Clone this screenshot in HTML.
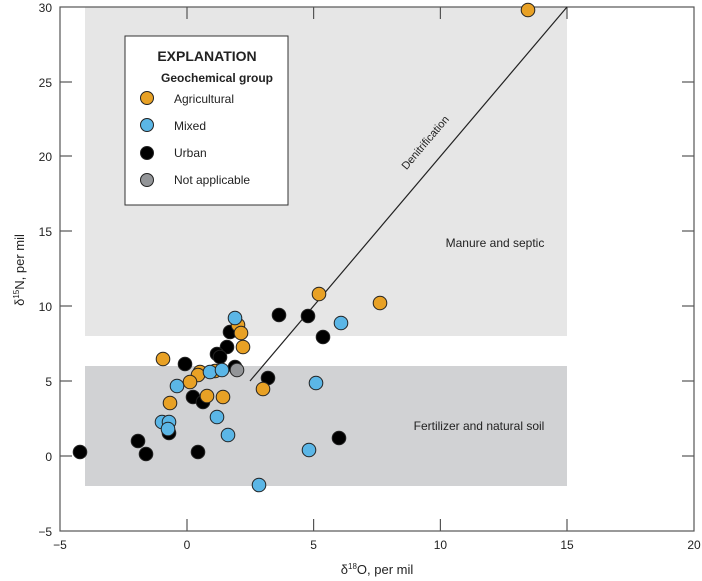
<!DOCTYPE html>
<html><head><meta charset="utf-8"><style>
body{margin:0;background:#fff}
svg{display:block;font-family:"Liberation Sans",sans-serif}
</style></head><body>
<svg width="702" height="581" viewBox="0 0 702 581">
<rect x="85" y="7" width="482" height="329" fill="#e6e6e6"/>
<rect x="85" y="366" width="482" height="120" fill="#d1d2d4"/>
<rect x="60" y="7" width="634" height="524" fill="none" stroke="#555" stroke-width="1.2"/>
<g stroke="#555" stroke-width="1.2">
<line x1="187" y1="531" x2="187" y2="519"/><line x1="313.6" y1="531" x2="313.6" y2="519"/><line x1="440.4" y1="531" x2="440.4" y2="519"/><line x1="567" y1="531" x2="567" y2="519"/>
<line x1="187" y1="7" x2="187" y2="19"/><line x1="313.6" y1="7" x2="313.6" y2="19"/><line x1="440.4" y1="7" x2="440.4" y2="19"/><line x1="567" y1="7" x2="567" y2="19"/>
<line x1="60" y1="82" x2="72" y2="82"/><line x1="60" y1="156" x2="72" y2="156"/><line x1="60" y1="231" x2="72" y2="231"/><line x1="60" y1="306" x2="72" y2="306"/><line x1="60" y1="381" x2="72" y2="381"/><line x1="60" y1="456" x2="72" y2="456"/>
<line x1="694" y1="82" x2="682" y2="82"/><line x1="694" y1="156" x2="682" y2="156"/><line x1="694" y1="231" x2="682" y2="231"/><line x1="694" y1="306" x2="682" y2="306"/><line x1="694" y1="381" x2="682" y2="381"/><line x1="694" y1="456" x2="682" y2="456"/>
</g>
<g font-size="12" fill="#222" text-anchor="end">
<text x="52" y="12">30</text><text x="52" y="87">25</text><text x="52" y="161">20</text><text x="52" y="236">15</text><text x="52" y="311">10</text><text x="52" y="386">5</text><text x="52" y="461">0</text><text x="52" y="536">−5</text>
</g>
<g font-size="12" fill="#222" text-anchor="middle">
<text x="60" y="549">−5</text><text x="187" y="549">0</text><text x="313.6" y="549">5</text><text x="440.4" y="549">10</text><text x="567" y="549">15</text><text x="694" y="549">20</text>
<text x="377" y="574" font-size="13">δ<tspan font-size="8" dy="-5">18</tspan><tspan dy="5">O, per mil</tspan></text>
</g>
<text transform="translate(24,270) rotate(-90)" font-size="13" fill="#222" text-anchor="middle">δ<tspan font-size="8" dy="-5">15</tspan><tspan dy="5">N, per mil</tspan></text>
<line x1="250" y1="381" x2="567" y2="7" stroke="#222" stroke-width="1.2"/>
<text transform="translate(428,145) rotate(-49.7)" font-size="11" fill="#222" text-anchor="middle">Denitrification</text>
<text x="495" y="247" font-size="12" fill="#222" text-anchor="middle">Manure and septic</text>
<text x="479" y="430" font-size="12" fill="#222" text-anchor="middle">Fertilizer and natural soil</text>
<rect x="125" y="36" width="163" height="169" fill="#fff" stroke="#333" stroke-width="1"/>
<text x="207" y="61" font-size="14" font-weight="bold" fill="#222" text-anchor="middle">EXPLANATION</text>
<text x="217" y="82" font-size="12" font-weight="bold" fill="#222" text-anchor="middle">Geochemical group</text>
<g stroke="#222" stroke-width="1">
<circle cx="147" cy="98" r="6.5" fill="#E8A125"/><circle cx="147" cy="125" r="6.5" fill="#5BB6E6"/><circle cx="147" cy="153" r="6.5" fill="#000"/><circle cx="147" cy="180" r="6.5" fill="#939598"/>
</g>
<g font-size="12" fill="#222">
<text x="174" y="103">Agricultural</text><text x="174" y="130">Mixed</text><text x="174" y="157">Urban</text><text x="174" y="184">Not applicable</text>
</g>
<g stroke="#222" stroke-width="1">
<g fill="#000">
<circle cx="279" cy="315" r="6.8"/><circle cx="230" cy="332" r="6.8"/><circle cx="227" cy="347" r="6.8"/><circle cx="217" cy="354" r="6.8"/><circle cx="220" cy="357" r="6.8"/><circle cx="185" cy="364" r="6.8"/><circle cx="235" cy="367" r="6.8"/><circle cx="268" cy="378" r="6.8"/><circle cx="193" cy="397" r="6.8"/><circle cx="203" cy="402" r="6.8"/><circle cx="169" cy="433" r="6.8"/><circle cx="138" cy="441" r="6.8"/><circle cx="146" cy="454" r="6.8"/><circle cx="198" cy="452" r="6.8"/><circle cx="80" cy="452" r="6.8"/><circle cx="339" cy="438" r="6.8"/><circle cx="323" cy="337" r="6.8"/><circle cx="308" cy="316" r="6.8"/>
</g>
<g fill="#E8A125">
<circle cx="528" cy="10" r="6.8"/><circle cx="319" cy="294" r="6.8"/><circle cx="380" cy="303" r="6.8"/><circle cx="238" cy="325" r="6.8"/><circle cx="241" cy="333" r="6.8"/><circle cx="243" cy="347" r="6.8"/><circle cx="163" cy="359" r="6.8"/><circle cx="215" cy="371" r="6.8"/><circle cx="200" cy="372" r="6.8"/><circle cx="198" cy="375" r="6.8"/><circle cx="190" cy="382" r="6.8"/><circle cx="263" cy="389" r="6.8"/><circle cx="207" cy="396" r="6.8"/><circle cx="223" cy="397" r="6.8"/><circle cx="170" cy="403" r="6.8"/>
</g>
<g fill="#5BB6E6">
<circle cx="235" cy="318" r="6.8"/><circle cx="210" cy="372" r="6.8"/><circle cx="222" cy="370" r="6.8"/><circle cx="177" cy="386" r="6.8"/><circle cx="217" cy="417" r="6.8"/><circle cx="162" cy="422" r="6.8"/><circle cx="169" cy="422" r="6.8"/><circle cx="168" cy="429" r="6.8"/><circle cx="228" cy="435" r="6.8"/><circle cx="309" cy="450" r="6.8"/><circle cx="259" cy="485" r="6.8"/><circle cx="316" cy="383" r="6.8"/><circle cx="341" cy="323" r="6.8"/>
</g>
<circle cx="237" cy="370" r="6.8" fill="#939598"/>
</g>
</svg>
</body></html>
